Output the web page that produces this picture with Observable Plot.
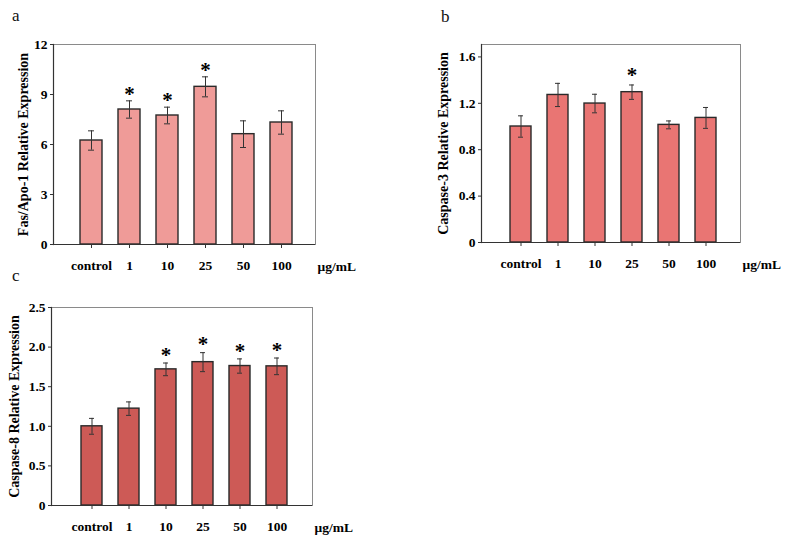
<!DOCTYPE html>
<html><head><meta charset="utf-8">
<script src="https://cdn.jsdelivr.net/npm/d3@7"></script>
<script src="https://cdn.jsdelivr.net/npm/@observablehq/plot@0.6"></script>
<style>
body{margin:0;background:#fff;}
#wrap{position:relative;width:796px;height:539px;overflow:hidden;font-family:"Liberation Serif","Times New Roman",serif;}
.panel{position:absolute;}
.letter{position:absolute;font-size:17px;line-height:17px;color:#111;}
</style></head><body><div id="wrap"></div>
<script>
const categories = ["control","1","10","25","50","100"];
const unitLabel = "μg/mL";
const panelLetters = ["a","b","c"];

const fasLabel = "Fas/Apo-1 Relative Expression";
const fasMean = [6.24, 8.10, 7.74, 9.46, 6.62, 7.32];
const fasErr  = [0.58, 0.52, 0.50, 0.60, 0.80, 0.70];
const fasSig  = [0, 1, 1, 1, 0, 0];
const fasTicks = [0, 3, 6, 9, 12];

const casp3Label = "Caspase-3 Relative Expression";
const casp3Mean = [1.00, 1.272, 1.198, 1.296, 1.014, 1.074];
const casp3Err  = [0.092, 0.10, 0.08, 0.062, 0.034, 0.09];
const casp3Sig  = [0, 0, 0, 1, 0, 0];
const casp3Ticks = [0, 0.4, 0.8, 1.2, 1.6];

const casp8Label = "Caspase-8 Relative Expression";
const casp8Mean = [1.00, 1.223, 1.719, 1.81, 1.761, 1.757];
const casp8Err  = [0.10, 0.085, 0.08, 0.12, 0.09, 0.105];
const casp8Sig  = [0, 0, 1, 1, 1, 1];
const casp8Ticks = [0, 0.5, 1.0, 1.5, 2.0, 2.5];

const FONT = '"Liberation Serif","Times New Roman",serif';

function panel(o) {
  const data = categories.map((c, i) => ({
    cat: c, v: o.mean[i], lo: o.mean[i] - o.err[i], hi: o.mean[i] + o.err[i], sig: o.sig[i]
  }));
  const tf = o.intTicks ? (d => String(d)) : (d => d === 0 ? "0" : d.toFixed(1));
  const svg = Plot.plot({
    width: o.width, height: o.height,
    marginLeft: o.ml, marginRight: o.mr, marginTop: o.mt, marginBottom: o.mb,
    style: {fontFamily: FONT, fontSize: "13.5px", fontWeight: "bold", color: "#000", background: "transparent", overflow: "visible"},
    x: {domain: categories, paddingInner: 0.42, paddingOuter: 0.65, align: 0.55, label: null},
    y: {domain: [0, o.yMax], label: null},
    marks: [
      Plot.frame({stroke: "#8a8a8a", strokeWidth: 1}),
      Plot.barY(data, {x: "cat", y: "v", fill: o.color, stroke: "#2a2a2a", strokeWidth: 1.4}),
      Plot.ruleX(data, {x: "cat", y1: "lo", y2: "hi", stroke: "#333", strokeWidth: 1}),
      Plot.tickY(data, {x: "cat", y: "lo", insetLeft: 8, insetRight: 8, stroke: "#333", strokeWidth: 1}),
      Plot.tickY(data, {x: "cat", y: "hi", insetLeft: 8, insetRight: 8, stroke: "#333", strokeWidth: 1}),
      Plot.text(data.filter(d => d.sig), {x: "cat", y: "hi", text: () => "*", fontSize: 21, fontWeight: "bold", dy: o.starDy, fill: "#000"}),
      Plot.ruleY([0], {stroke: "#333", strokeWidth: 1.2}),
      Plot.frame({anchor: "left", stroke: "#333", strokeWidth: 1.2}),
      Plot.axisX({tickSize: 4, tickPadding: 12, label: null, stroke: "#333"}),
      Plot.axisY({ticks: o.ticks, tickFormat: tf, tickSize: 3, tickPadding: 3, label: null, stroke: "#333"}),
      Plot.text([o.ylabel], {frameAnchor: "left", textAnchor: "middle", lineAnchor: "middle", rotate: -90, dx: o.labelDx, fontSize: 14, fontWeight: "bold", fill: "#000"}),
      Plot.text([unitLabel], {frameAnchor: "bottom-right", textAnchor: "start", lineAnchor: "middle", dx: 2, dy: 22, fontSize: 13.5, fontWeight: "bold", fill: "#000"})
    ]
  });
  svg.classList.add("panel");
  svg.style.left = o.left + "px";
  svg.style.top = o.top + "px";
  svg.style.position = "absolute";
  return svg;
}

const wrap = document.getElementById("wrap");
wrap.appendChild(panel({
  mean: fasMean, err: fasErr, sig: fasSig, ticks: fasTicks, yMax: 12, intTicks: true,
  ylabel: fasLabel, color: "#ef9b98", starDy: -7, labelDx: -30,
  left: 0, top: 0, width: 400, height: 280, ml: 53, mr: 85, mt: 44, mb: 36
}));
wrap.appendChild(panel({
  mean: casp3Mean, err: casp3Err, sig: casp3Sig, ticks: casp3Ticks, yMax: 1.707,
  ylabel: casp3Label, color: "#e97573", starDy: -10, labelDx: -38,
  left: 400, top: 0, width: 396, height: 280, ml: 81, mr: 56, mt: 44, mb: 38
}));
wrap.appendChild(panel({
  mean: casp8Mean, err: casp8Err, sig: casp8Sig, ticks: casp8Ticks, yMax: 2.5,
  ylabel: casp8Label, color: "#cd5a56", starDy: -8, labelDx: -37,
  left: 0, top: 260, width: 400, height: 279, ml: 51, mr: 88, mt: 47, mb: 34
}));

const letterPos = [[12, 7], [441, 8], [12, 267]];
panelLetters.forEach((t, i) => {
  const d = document.createElement("div");
  d.className = "letter";
  d.textContent = t;
  d.style.left = letterPos[i][0] + "px";
  d.style.top = letterPos[i][1] + "px";
  wrap.appendChild(d);
});
</script>
</body></html>
